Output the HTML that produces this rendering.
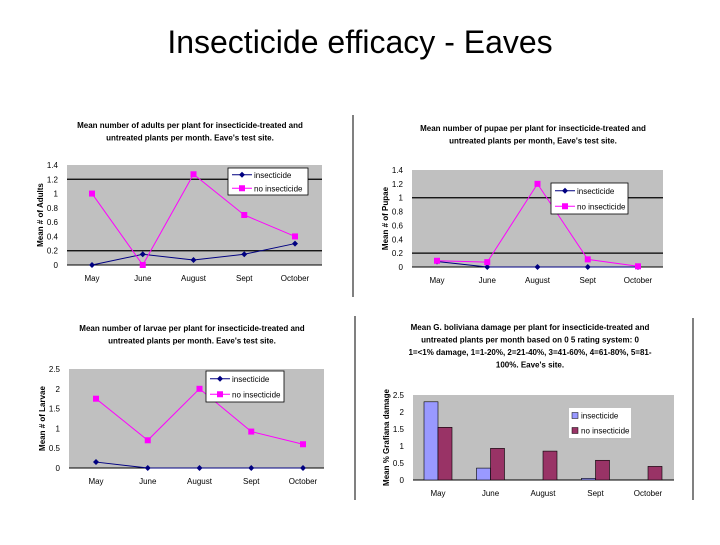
<!DOCTYPE html>
<html><head><meta charset="utf-8"><style>
body{margin:0;background:#fff;width:720px;height:540px;overflow:hidden;font-family:"Liberation Sans",sans-serif}
svg text{font-family:"Liberation Sans",sans-serif}
</style></head><body>
<svg id="s" width="720" height="540" xmlns="http://www.w3.org/2000/svg">
<text x="360" y="53" font-size="32" text-anchor="middle">Insecticide efficacy - Eaves</text>
<line x1="353" y1="115" x2="353" y2="297" stroke="#000"/>
<line x1="355" y1="316" x2="355" y2="500" stroke="#000"/>
<line x1="693" y1="318" x2="693" y2="500" stroke="#000"/>
</svg>
<script>
const months=["May","June","August","Sept","October"];
const adultsIns=[0,0.15,0.07,0.15,0.3];
const adultsNo=[1.0,0,1.27,0.7,0.4];
const adultsTicks=["0","0.2","0.4","0.6","0.8","1","1.2","1.4"];
const pupaeIns=[0.08,0,0,0,0];
const pupaeNo=[0.09,0.07,1.2,0.11,0.01];
const pupaeTicks=["0","0.2","0.4","0.6","0.8","1","1.2","1.4"];
const larvaeIns=[0.15,0,0,0,0];
const larvaeNo=[1.75,0.7,2.0,0.92,0.6];
const larvaeTicks=["0","0.5","1","1.5","2","2.5"];
const damageIns=[2.3,0.35,0,0.05,0];
const damageNo=[1.55,0.93,0.85,0.58,0.4];
const damageTicks=["0","0.5","1","1.5","2","2.5"];

const S=document.getElementById('s');const NS="http://www.w3.org/2000/svg";
function mk(t,a,p){const e=document.createElementNS(NS,t);for(const k in a)e.setAttribute(k,a[k]);(p||S).appendChild(e);return e;}
function txt(x,y,s,fs,anchor,p,w){const e=mk('text',{x:x,y:y,'font-size':fs,'text-anchor':anchor||'middle','font-weight':w||'normal'},p);e.textContent=s;return e;}

function chart(o){
  const g=mk('g',{});
  
  
  o.title.forEach((l,i)=>{const t=txt(o.tx,o.ty+i*12.5,l,8,'middle',g,'bold');
    });
  const r=mk('rect',{x:o.x0,y:o.y0,width:o.x1-o.x0,height:o.y1-o.y0,fill:'#c0c0c0'},g);
  
  const yv=v=>o.y1-(v/o.max)*(o.y1-o.y0);
  const xs=i=>o.cx0+i*(o.cx1-o.cx0)/(months.length-1);
  o.grid.forEach(v=>{const l=mk('line',{x1:o.x0,x2:o.x1,y1:yv(v),y2:yv(v),stroke:'#000','stroke-width':1.2},g);
    });
  mk('line',{x1:o.x0,x2:o.x1,y1:o.y1,y2:o.y1,stroke:'#000'},g);
  const n=o.ticks.length-1;
  o.ticks.forEach((t,i)=>{const e=txt(o.x0-9,yv(o.max*i/n)+3,t,8,'end',g);
    });
  months.forEach((m,i)=>{const e=txt(xs(i),o.y1+16,m,8,'middle',g);
    });
  const yt=txt(0,0,o.ylab,8,'middle',g,'bold');
  yt.setAttribute('transform',`translate(${o.x0-24},${(o.y0+o.y1)/2}) rotate(-90)`);
  
  if(o.bar){
    const bw=14;
    months.forEach((m,i)=>{
      const a=mk('rect',{x:xs(i)-bw,y:yv(o.s1[i]),width:bw,height:o.y1-yv(o.s1[i]),fill:'#9999ff',stroke:'#000','stroke-width':0.6},g);
      
      const b=mk('rect',{x:xs(i),y:yv(o.s2[i]),width:bw,height:o.y1-yv(o.s2[i]),fill:'#993366',stroke:'#000','stroke-width':0.6},g);
      
    });
  } else {
    const p1=mk('polyline',{points:o.s1.map((v,i)=>xs(i)+','+yv(v)).join(' '),fill:'none',stroke:'#000080','stroke-width':1},g);
    
    const p2=mk('polyline',{points:o.s2.map((v,i)=>xs(i)+','+yv(v)).join(' '),fill:'none',stroke:'#ff00ff','stroke-width':1},g);
    
    o.s1.forEach((v,i)=>{const d=mk('path',{d:`M${xs(i)} ${yv(v)-3}l3 3l-3 3l-3 -3z`,fill:'#000080'},g);
      });
    o.s2.forEach((v,i)=>{const d=mk('rect',{x:xs(i)-3,y:yv(v)-3,width:6,height:6,fill:'#ff00ff'},g);
      });
  }
  const L=o.leg;
  const lg=mk('g',{},g);
  
  mk('rect',{x:L[0],y:L[1],width:L[2]-L[0],height:L[3]-L[1],fill:'#fff',stroke:o.bar?'none':'#000','stroke-width':0.8},lg);
  const h=(L[3]-L[1])/2;
  ['insecticide','no insecticide'].forEach((s,i)=>{
    const cy=L[1]+h*i+h/2;
    if(o.bar){mk('rect',{x:L[0]+3,y:cy-3,width:6,height:6,fill:i?'#993366':'#9999ff',stroke:'#000','stroke-width':0.5},lg);
      txt(L[0]+12,cy+3,s,8,'start',lg);}
    else{mk('line',{x1:L[0]+4,x2:L[0]+24,y1:cy,y2:cy,stroke:i?'#ff00ff':'#000080'},lg);
      if(i)mk('rect',{x:L[0]+11,y:cy-3,width:6,height:6,fill:'#ff00ff'},lg);
      else mk('path',{d:`M${L[0]+14} ${cy-3}l3 3l-3 3l-3 -3z`,fill:'#000080'},lg);
      txt(L[0]+26,cy+3,s,8,'start',lg);}
  });
}
chart({name:'adults-chart',title:['Mean number of adults per plant for insecticide-treated and','untreated plants per month. Eave\'s test site.'],tx:190,ty:128,
 x0:67,x1:322,y0:165,y1:265,max:1.4,cx0:92,cx1:295,grid:[1.2,0.2],ticks:adultsTicks,ylab:'Mean # of Adults',s1:adultsIns,s2:adultsNo,leg:[228,168,308,195]});
chart({name:'pupae-chart',title:['Mean number of pupae per plant for insecticide-treated and','untreated plants per month, Eave\'s test site.'],tx:533,ty:131,
 x0:412,x1:663,y0:170,y1:267,max:1.4,cx0:437,cx1:638,grid:[1,0.2],ticks:pupaeTicks,ylab:'Mean # of Pupae',s1:pupaeIns,s2:pupaeNo,leg:[551,183,628,214]});
chart({name:'larvae-chart',title:['Mean number of larvae per plant for insecticide-treated and','untreated plants per month. Eave\'s test site.'],tx:192,ty:331,
 x0:69,x1:324,y0:369,y1:468,max:2.5,cx0:96,cx1:303,grid:[],ticks:larvaeTicks,ylab:'Mean # of Larvae',s1:larvaeIns,s2:larvaeNo,leg:[206,371,284,402]});
chart({name:'damage-chart',title:['Mean G. boliviana damage per plant for insecticide-treated and','untreated plants per month based on 0 5 rating system: 0','1=<1% damage, 1=1-20%, 2=21-40%, 3=41-60%, 4=61-80%, 5=81-','100%.  Eave\'s site.'],tx:530,ty:330,
 x0:413,x1:674,y0:395,y1:480,max:2.5,cx0:438,cx1:648,grid:[],ticks:damageTicks,ylab:'Mean % Grafiana damage',s1:damageIns,s2:damageNo,leg:[569,408,631,438],bar:true});
</script>
</body></html>
